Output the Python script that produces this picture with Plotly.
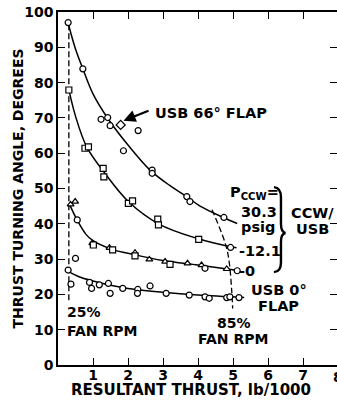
import plotly.graph_objects as go

# ---- data ----
# P_ccw = 30.3 psig (circles, top curve)
x_303 = [0.29, 0.71, 1.23, 1.42, 1.49, 1.87, 2.29, 2.69, 2.69, 3.68, 3.77, 4.74]
y_303 = [97.0, 83.9, 69.6, 70.1, 67.8, 60.7, 66.4, 55.2, 54.3, 47.7, 46.3, 41.8]
# USB 66 deg flap point (arrowed)
x_66 = [1.79]
y_66 = [68.0]
# P_ccw = 12.1 psig (squares)
x_121 = [0.31, 0.77, 0.87, 1.29, 1.31, 2.01, 2.13, 2.85, 2.87, 4.02, 4.93]
y_121 = [77.9, 61.4, 61.8, 55.7, 53.3, 45.8, 46.5, 41.3, 39.7, 35.6, 33.3]
s_121 = ["square"] * 10 + ["circle"]
# P_ccw = 0 (triangles)
x_0 = [0.36, 0.49, 0.55, 0.98, 1.01, 1.47, 1.56, 2.20, 2.20, 2.61, 3.06, 3.20, 3.70, 4.10, 4.20, 4.82, 5.12]
y_0 = [45.5, 46.3, 41.1, 34.5, 34.0, 33.2, 32.6, 31.8, 30.9, 29.9, 29.3, 28.5, 28.8, 28.3, 27.4, 27.2, 26.7]
s_0 = ["triangle-up", "triangle-up", "circle", "triangle-up", "square",
       "triangle-up", "square", "triangle-up", "square", "triangle-up",
       "triangle-up", "square", "triangle-up", "triangle-up", "circle",
       "triangle-up", "circle"]
# USB 0 deg flap (circles, bottom)
x_u0 = [0.29, 0.37, 0.50, 0.90, 0.96, 1.18, 1.44, 1.49, 1.85, 2.28, 2.27, 2.63, 3.09, 3.75, 4.20, 4.32, 4.82, 4.91, 5.17]
y_u0 = [26.9, 22.9, 30.2, 23.4, 21.7, 22.7, 23.1, 20.3, 21.7, 21.4, 20.3, 22.4, 20.3, 19.8, 19.3, 18.9, 19.1, 19.3, 19.1]

# faired curves
cx_303 = [0.29, 0.50, 0.71, 1.00, 1.42, 2.00, 2.63, 3.20, 3.68, 4.06, 4.72, 5.12]
cy_303 = [96.8, 89.5, 83.9, 76.8, 69.9, 62.3, 55.2, 50.8, 47.7, 45.0, 41.8, 40.1]
cx_121 = [0.31, 0.50, 0.82, 1.34, 2.01, 2.87, 3.96, 4.93, 5.10]
cy_121 = [78.0, 70.5, 61.8, 54.3, 46.3, 40.0, 35.9, 33.5, 33.2]
cx_0 = [0.33, 0.55, 0.80, 1.00, 1.50, 2.20, 3.00, 4.00, 5.15]
cy_0 = [45.5, 41.0, 37.0, 35.2, 32.9, 31.2, 29.6, 28.3, 26.8]
cx_u0 = [0.29, 0.60, 1.00, 1.50, 2.00, 3.00, 4.00, 5.32]
cy_u0 = [26.5, 25.0, 23.8, 22.6, 21.7, 20.6, 19.8, 19.1]
# fan rpm boundaries
fx_25 = [0.31, 0.31]
fy_25 = [96.5, 17.5]
fx_85 = [4.40, 4.67, 4.82, 4.90, 4.96, 4.99]
fy_85 = [44.0, 37.5, 33.0, 28.5, 21.5, 16.0]

x_ticks = [1, 2, 3, 4, 5, 6, 7]
y_ticks = [0, 10, 20, 30, 40, 50, 60, 70, 80, 90, 100]

FONT = "DejaVu Sans"
BLK = "black"

fig = go.Figure()
for cx, cy in [(cx_303, cy_303), (cx_121, cy_121), (cx_0, cy_0), (cx_u0, cy_u0)]:
    fig.add_trace(go.Scatter(x=cx, y=cy, mode="lines", line=dict(color=BLK, width=1.5, shape="spline"),
                             hoverinfo="skip", showlegend=False))
fig.add_trace(go.Scatter(x=fx_25, y=fy_25, mode="lines", line=dict(color=BLK, width=1.3, dash="6px,3px"),
                         showlegend=False))
fig.add_trace(go.Scatter(x=fx_85, y=fy_85, mode="lines", line=dict(color=BLK, width=1.3, dash="6px,3px", shape="spline"),
                         showlegend=False))

mk = dict(color="white", size=6, line=dict(color=BLK, width=1.2))
fig.add_trace(go.Scatter(x=x_303, y=y_303, mode="markers", marker=dict(mk, symbol="circle"), showlegend=False))
fig.add_trace(go.Scatter(x=x_66, y=y_66, mode="markers", marker=dict(mk, symbol="diamond", size=7), showlegend=False))
fig.add_trace(go.Scatter(x=x_121, y=y_121, mode="markers", marker=dict(mk, symbol=s_121), showlegend=False))
fig.add_trace(go.Scatter(x=x_0, y=y_0, mode="markers", marker=dict(mk, symbol=s_0), showlegend=False))
fig.add_trace(go.Scatter(x=x_u0, y=y_u0, mode="markers", marker=dict(mk, symbol="circle"), showlegend=False))
fig.add_trace(go.Scatter(x=[], y=[], yaxis="y2", showlegend=False))

tf = dict(family=FONT, size=14, color=BLK, weight="bold")
lf = dict(family=FONT, size=14.5, color=BLK, weight="bold")

ann = []
def txt(x, y, t, xanchor="left", size=None, xref="x", yref="y"):
    f = dict(lf)
    if size:
        f["size"] = size
    ann.append(dict(x=x, y=y, text=t, showarrow=False, xanchor=xanchor, yanchor="middle",
                    font=f, xref=xref, yref=yref))

txt(2.71, 71.4, "USB 66° FLAP")
ann.append(dict(x=1.87, y=69.2, ax=2.63, ay=72.2, axref="x", ayref="y", xref="x", yref="y",
                text="", showarrow=True, arrowhead=2, arrowsize=1.1, arrowwidth=2.2, arrowcolor=BLK))
txt(4.86, 48.6, "P<sub>CCW</sub>=")
txt(5.17, 43.3, "30.3")
txt(5.17, 39.1, "psig")
txt(5.10, 32.4, "-12.1")
txt(5.12, 26.7, "-0")
txt(6.30, 21.2, "USB 0°", xanchor="center")
txt(6.30, 16.7, "FLAP", xanchor="center")
txt(7.26, 43.1, "CCW/", xanchor="center")
txt(7.26, 38.6, "USB", xanchor="center")
txt(5.03, 11.9, "85%", xanchor="center", size=14)
txt(4.99, 7.4, "FAN RPM", xanchor="center", size=14)
txt(0.20, 14.9, "25%", size=14)
txt(0.20, 9.5, "FAN RPM", size=14)
txt(1.0036, -0.034, "8", xanchor="center", size=14, xref="paper", yref="paper")
# axis titles
ann.append(dict(x=-0.1434, y=50.0, xref="paper", yref="y", text="THRUST TURNING ANGLE, DEGREES",
                textangle=-90, showarrow=False, xanchor="center", yanchor="middle",
                font=dict(family=FONT, size=14, color=BLK, weight="bold")))
ann.append(dict(x=3.81, y=-0.0708, xref="x", yref="paper", text="RESULTANT THRUST, lb/1000",
                showarrow=False, xanchor="center", yanchor="middle",
                font=dict(family=FONT, size=15, color=BLK, weight="bold")))

brace = ("M 6.17,50.4 Q 6.37,50.2 6.37,47.5 L 6.37,40.0 Q 6.37,37.6 6.50,37.4 "
         "Q 6.37,37.2 6.37,34.8 L 6.37,29.0 Q 6.37,26.5 6.17,26.3")
shapes = [dict(type="path", path=brace, xref="x", yref="y", line=dict(color=BLK, width=2.4))]

fig.update_layout(
    width=337, height=404,
    margin=dict(l=58, r=0, t=12, b=39),
    paper_bgcolor="white", plot_bgcolor="white",
    annotations=ann, shapes=shapes,
    xaxis=dict(range=[0, 7.971], tickvals=x_ticks, ticktext=[str(v) for v in x_ticks],
               ticks="inside", ticklen=7, tickwidth=1.2, tickcolor=BLK, ticklabelstandoff=-4,
               showline=True, linecolor=BLK, linewidth=1.5, mirror="ticks",
               showgrid=False, zeroline=False, tickfont=tf),
    yaxis=dict(range=[0, 100], tickvals=y_ticks, ticks="inside", ticklen=7, tickwidth=1.2, tickcolor=BLK,
               showline=True, linecolor=BLK, linewidth=1.5, mirror=False,
               showgrid=False, zeroline=False, tickfont=tf),
    yaxis2=dict(range=[0, 100], overlaying="y", side="right", tickvals=y_ticks[1:-1], ticks="inside",
                ticklen=7, tickwidth=1.2, tickcolor=BLK, showticklabels=False, showline=False,
                showgrid=False, zeroline=False),
)
fig.write_html("out.html")
